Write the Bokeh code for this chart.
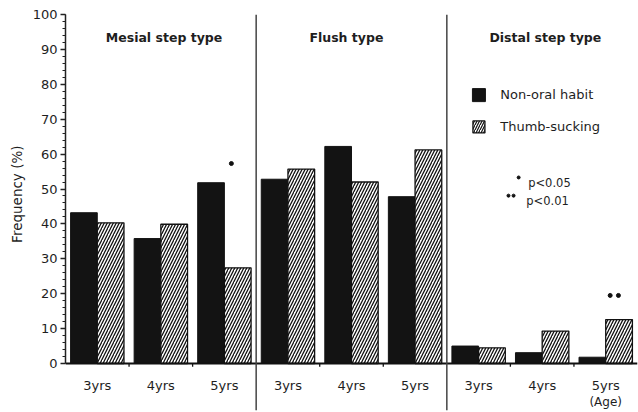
from bokeh.plotting import figure
from bokeh.models import SingleIntervalTicker, Title
from bokeh.core.properties import value
from bokeh.embed import file_html
from bokeh.resources import INLINE

# ---- data ----
age_labels = ["3yrs", "4yrs", "5yrs", "3yrs", "4yrs", "5yrs", "3yrs", "4yrs", "5yrs"]
group_titles = ["Mesial step type", "Flush type", "Distal step type"]
group_title_x = [1.55, 4.42, 7.55]
non_oral = [43.2, 35.8, 51.8, 52.8, 62.2, 47.8, 5.0, 3.1, 1.8]
thumb = [40.3, 39.9, 27.4, 55.7, 52.0, 61.2, 4.5, 9.3, 12.6]
# significance: (bar-pair index, number of stars)
sig_index = [2, 8]
sig_stars = [1, 2]
series_names = ["Non-oral habit", "Thumb-sucking"]
pval_labels = ["p<0.05", "p<0.01"]

FONT = "DejaVu Sans"
TXT = "#1e1e1e"

centers = [i + 0.5 for i in range(len(age_labels))]
bw = 0.42

px_per_unit_y = 3.49
frame_h = 396
y_start = 100 - frame_h / px_per_unit_y

p = figure(width=638, height=412, output_backend="svg", toolbar_location=None,
           x_range=(0, 9), y_range=(y_start, 100), x_axis_location=None,
           min_border_left=65, min_border_right=1, min_border_top=14, min_border_bottom=2)
p.grid.visible = False
p.outline_line_color = None
p.background_fill_color = "white"

# y axis
ya = p.yaxis[0]
ya.bounds = (0, 100)
ya.ticker = SingleIntervalTicker(interval=10, num_minor_ticks=5)
ya.axis_line_color = "#222"
ya.axis_line_width = 1.5
ya.major_tick_line_color = "#222"
ya.major_tick_line_width = 1.3
ya.major_tick_out = 5
ya.major_tick_in = 0
ya.minor_tick_line_color = "#222"
ya.minor_tick_out = 3
ya.minor_tick_in = 0
ya.major_label_text_font = FONT
ya.major_label_text_font_size = "13px"
ya.major_label_text_color = TXT
ya.major_label_standoff = 3

p.add_layout(Title(text="Frequency (%)", align="right", offset=131, standoff=9,
                   text_font=FONT, text_font_size="13.5px", text_font_style="normal",
                   text_color=TXT), "left")

# bars
p.vbar(x=[c - bw / 2 for c in centers], top=non_oral, width=bw, bottom=0,
       fill_color="#131313", line_color="#131313", line_width=1)
p.vbar(x=[c + bw / 2 for c in centers], top=thumb, width=bw, bottom=0,
       fill_color="white", line_color="#111", line_width=1.3,
       hatch_pattern="/", hatch_color="#111", hatch_scale=6, hatch_weight=1.3)

# baseline and small ticks
p.segment(x0=[0], y0=[0], x1=[9], y1=[0], line_color="#111", line_width=2)
tick_x = [1, 2, 4, 5, 7, 8]
p.segment(x0=tick_x, y0=[0] * len(tick_x), x1=tick_x, y1=[-0.9] * len(tick_x),
          line_color="#111", line_width=1.3)

# separators
p.segment(x0=[3, 6], y0=[100, 100], x1=[3, 6], y1=[y_start, y_start],
          line_color="#444", line_width=1.5)

# age labels
p.text(x=centers, y=[-6.3] * len(centers), text=age_labels, text_align="center",
       text_baseline="middle", text_font=value(FONT), text_font_size="13px", text_color=TXT)
p.text(x=[centers[-1]], y=[-10.9], text=["(Age)"], text_align="center",
       text_baseline="middle", text_font=value(FONT), text_font_size="12px", text_color=TXT)

# group titles
p.text(x=group_title_x, y=[93.4] * 3, text=group_titles, text_align="center",
       text_baseline="middle", text_font=value(FONT), text_font_size="12.5px",
       text_font_style="bold", text_color=TXT)

# significance dots
sx, sy = [], []
for idx, n in zip(sig_index, sig_stars):
    top = max(non_oral[idx], thumb[idx])
    if n == 1:
        sx.append(centers[idx] + 0.11)
        sy.append(top + 5.5)
    else:
        sx += [centers[idx] + 0.07, centers[idx] + 0.2]
        sy += [top + 6.9, top + 6.9]
p.scatter(x=sx, y=sy, size=4, fill_color="#111", line_color="#111")

# legend
p.rect(x=[6.505], y=[76.9], width=13, height=13, width_units="screen", height_units="screen",
       fill_color="#131313", line_color="#131313")
p.rect(x=[6.505], y=[67.8], width=12, height=12, width_units="screen", height_units="screen",
       fill_color="white", line_color="#111", line_width=1.3,
       hatch_pattern="/", hatch_color="#111", hatch_scale=5, hatch_weight=1.2)
p.text(x=[6.84, 6.84], y=[77.0, 67.9], text=series_names, text_align="left",
       text_baseline="middle", text_font=value(FONT), text_font_size="13px", text_color=TXT)

# p-value legend
p.scatter(x=[7.13, 6.97, 7.05], y=[53.3, 48.1, 48.1], size=3, fill_color="#111", line_color="#111")
p.text(x=[7.28, 7.25], y=[51.8, 46.6], text=pval_labels, text_align="left",
       text_baseline="middle", text_font=value(FONT), text_font_size="11.5px", text_color=TXT)

open("out.html", "w").write(file_html(p, INLINE))
